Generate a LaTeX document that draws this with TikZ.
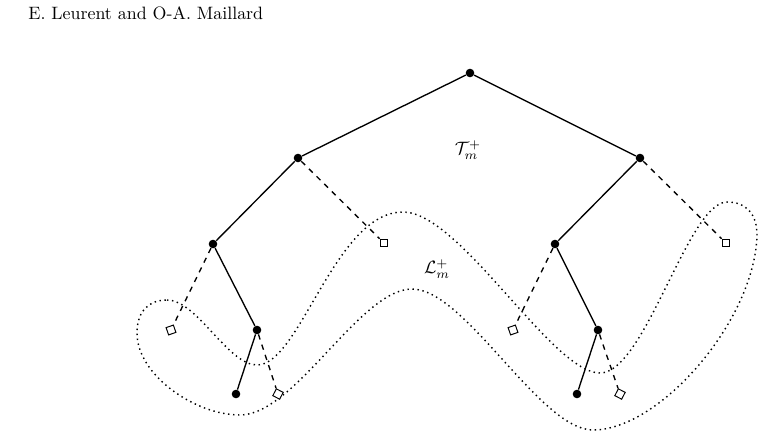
\documentclass[tikz,border=0pt]{standalone}
\usepackage{amsmath}
\begin{document}
\begin{tikzpicture}[x=0.5587pt,y=-0.5587pt,
  dot/.style={circle,fill=black,inner sep=0pt,minimum size=4.8pt},
  leaf/.style={rectangle,draw=black,line width=0.55pt,fill=white,inner sep=0pt,minimum size=4.3pt},
  edge/.style={line width=0.75pt},
  dedge/.style={line width=0.75pt,dashed},
  region/.style={line width=0.8pt,dotted}]
\useasboundingbox (0,0) rectangle (766,438);
\node[anchor=base west,inner sep=0pt] (hdr) at (28,19) {E. Leurent and O-A. Maillard};

% dotted region
\draw[region] (167,300)
  .. controls (197,300) and (228,365) .. (257,365)
  .. controls (300,365) and (335,212) .. (403,212)
  .. controls (460,212) and (552,373) .. (600,373)
  .. controls (645,373) and (688,202) .. (727,202)
  .. controls (747,202) and (757,215) .. (757,235)
  .. controls (755,320) and (660,430) .. (593,430)
  .. controls (540,430) and (465,289) .. (412,289)
  .. controls (360,289) and (295,415) .. (240,415)
  .. controls (195,415) and (137,375) .. (137,333)
  .. controls (137,310) and (150,300) .. (167,300) -- cycle;

\node (root) [dot] at (470,73) {};
\node (l) [dot] at (298,158) {};
\node (r) [dot] at (640,158) {};
\node (ll) [dot] at (213,244) {};
\node (lr) [leaf] at (384,243) {};
\node (rl) [dot] at (555,244) {};
\node (rr) [leaf] at (726,243) {};
\node (lll) [leaf,rotate=19] at (171,330) {};
\node (llr) [dot] at (257,330) {};
\node (llrl) [dot] at (236,394) {};
\node (llrr) [leaf,rotate=-27] at (278,394) {};
\node (rll) [leaf,rotate=19] at (513,330) {};
\node (rlr) [dot] at (598,330) {};
\node (rlrl) [dot] at (577,394) {};
\node (rlrr) [leaf,rotate=-27] at (620,394) {};

\draw[edge] (root) -- (l);
\draw[edge] (root) -- (r);
\draw[edge] (l) -- (ll);
\draw[dedge] (l) -- (lr);
\draw[edge] (r) -- (rl);
\draw[dedge] (r) -- (rr);
\draw[dedge] (ll) -- (lll);
\draw[edge] (ll) -- (llr);
\draw[edge] (llr) -- (llrl);
\draw[dedge] (llr) -- (llrr);
\draw[dedge] (rl) -- (rll);
\draw[edge] (rl) -- (rlr);
\draw[edge] (rlr) -- (rlrl);
\draw[dedge] (rlr) -- (rlrr);

\node (tlab) at (468,150) {$\mathcal{T}_m^+$};
\node (llab) at (437,269) {$\mathcal{L}_m^+$};
\end{tikzpicture}
\end{document}
